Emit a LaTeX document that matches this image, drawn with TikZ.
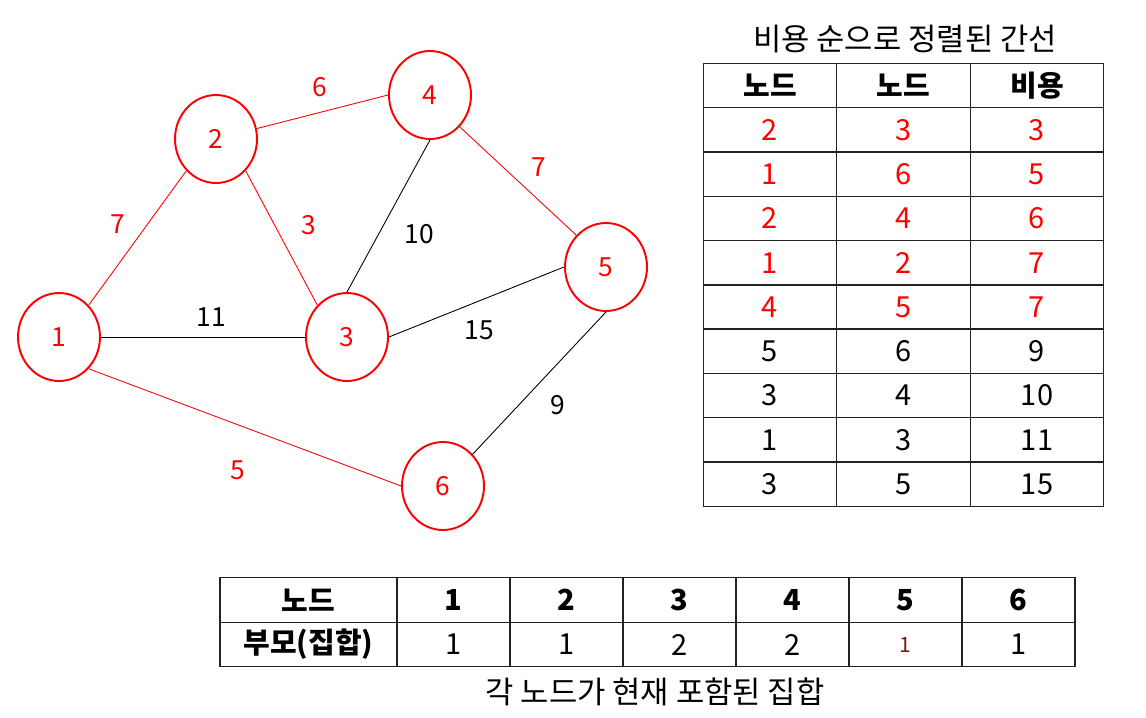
\documentclass[tikz,border=0pt]{standalone}
\usepackage{fontspec}
\setmainfont{Noto Sans CJK KR}
\usetikzlibrary{shapes.geometric}
\definecolor{kred}{RGB}{255, 0, 0}
\definecolor{kdark}{RGB}{34, 34, 34}
\definecolor{faintred}{RGB}{120, 25, 20}
\tikzset{
	vertex/.style={ellipse, draw=kred, line width=1.1pt, minimum width=1.64cm, minimum height=1.76cm, inner sep=0pt, text=kred, font=\fontsize{15}{18}\selectfont},
	picked/.style={draw=kred, line width=0.5pt},
	skipped/.style={draw=black, line width=0.5pt},
	cost/.style={font=\fontsize{15}{18}\selectfont},
	cell/.style={rectangle, draw=kdark, line width=0.8pt, minimum width=2.67cm, minimum height=0.886cm, inner sep=0pt, font=\fontsize{16.5}{20}\selectfont},
	headcell/.style={cell, font=\bfseries\fontsize{16.5}{20}\selectfont},
	narrowcell/.style={minimum width=2.26cm, minimum height=0.89cm},
	widecell/.style={minimum width=3.54cm, minimum height=0.89cm},
	caption/.style={font=\fontsize{17.5}{21}\selectfont},
}
\begin{document}
\begin{tikzpicture}[x=0.02cm, y=-0.02cm]
		\useasboundingbox (0,0) rectangle (1146,717);
		% graph
		\node[vertex] (v1) at (59,337) {1};
		\node[vertex] (v2) at (216,139) {2};
		\node[vertex] (v3) at (347,337) {3};
		\node[vertex] (v4) at (430,95) {4};
		\node[vertex] (v5) at (606,267) {5};
		\node[vertex] (v6) at (443,486) {6};
		\draw[picked] (v1.north east) -- (v2.south west);
		\draw[picked] (v2) -- (v4.west);
		\draw[picked] (v2.south east) -- (v3.north west);
		\draw[skipped] (v4.south) -- (v3.north);
		\draw[picked] (v4.south east) -- (v5.north west);
		\draw[skipped] (v1.east) -- (v3.west);
		\draw[skipped] (v3.east) -- (v5.west);
		\draw[skipped] (v5.south) -- (v6.north east);
		\draw[picked] (v1.south east) -- (v6.west);
		\node[cost, text=kred] (w12) at (118,224) {7};
		\node[cost, text=kred] (w24) at (320,87) {6};
		\node[cost, text=kred] (w23) at (309,225) {3};
		\node[cost] (w34) at (419,234) {10};
		\node[cost, text=kred] (w45) at (539,167) {7};
		\node[cost] (w13) at (211,317) {11};
		\node[cost] (w35) at (479,330) {15};
		\node[cost] (w56) at (558,405) {9};
		\node[cost, text=kred] (w16) at (238,470) {5};
		% sorted edges
		\node[caption] (sorttitle) at (905,39) {비용 순으로 정렬된 간선};
		\node[headcell] (ha) at (770,85.5) {노드};
		\node[headcell] (hb) at (903.5,85.5) {노드};
		\node[headcell] (hc) at (1037,85.5) {비용};
		\foreach \a/\b/\c/\col [count=\i] in {2/3/3/kred, 1/6/5/kred, 2/4/6/kred, 1/2/7/kred, 4/5/7/kred, 5/6/9/black, 3/4/10/black, 1/3/11/black, 3/5/15/black} {
			\node[cell, text=\col] (ea\i) at (770,{85.5+44.3*\i}) {\a};
			\node[cell, text=\col] (eb\i) at (903.5,{85.5+44.3*\i}) {\b};
			\node[cell, text=\col] (ec\i) at (1037,{85.5+44.3*\i}) {\c};
		}
		% parent table
		\node[headcell, widecell] (nodelabel) at (308.5,600) {노드};
		\node[headcell, widecell] (parentlabel) at (308.5,644.5) {부모(집합)};
		\foreach \p [count=\i] in {1, 1, 2, 2, {\color{faintred}\fontsize{12}{14}\selectfont 1}, 1} {
			\node[headcell, narrowcell] (n\i) at ({340.5+113*\i},600) {\i};
			\node[cell, narrowcell] (p\i) at ({340.5+113*\i},644.5) {\p};
		}
		\node[caption] (setcaption) at (655,692) {각 노드가 현재 포함된 집합};
	\end{tikzpicture}
\end{document}
